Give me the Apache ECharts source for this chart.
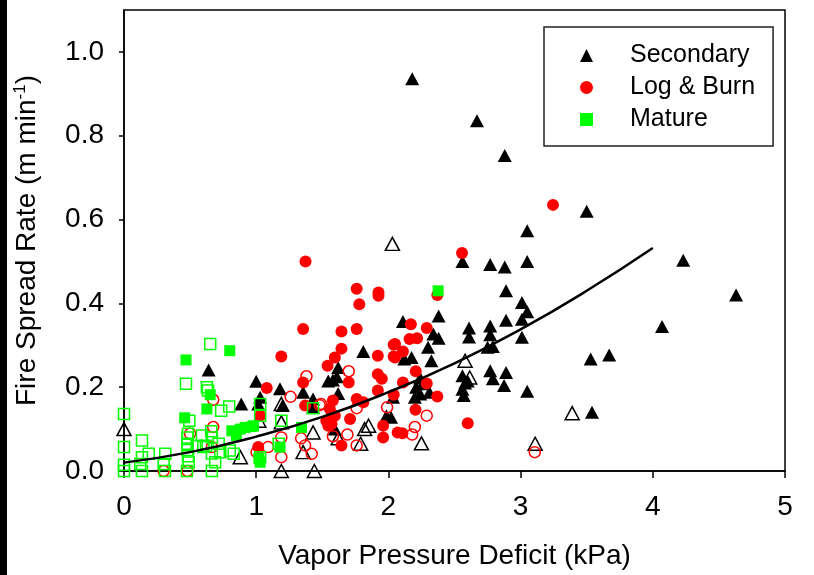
<!DOCTYPE html>
<html><head><meta charset="utf-8">
<script src="https://cdn.jsdelivr.net/npm/echarts@6/dist/echarts.min.js"></script>
<style>html,body{margin:0;padding:0;background:#fff}#c{width:814px;height:575px}</style>
</head><body><div id="c"></div>
<script>
// ---- data (x = VPD kPa, y = fire spread rate m/min) ----
const secondaryFilled = [[2.18,0.936],[2.67,0.836],[2.88,0.753],[3.50,0.62],[3.05,0.573],[2.56,0.50],[2.77,0.493],[2.88,0.487],[3.05,0.50],[4.23,0.503],[4.63,0.42],[4.07,0.345],[3.67,0.277],[3.53,0.267],[3.54,0.14],
[2.89,0.43],[3.01,0.402],[3.05,0.38],[3.01,0.362],[2.89,0.36],[2.61,0.341],[2.61,0.32],[2.77,0.346],[2.77,0.325],[2.75,0.295],[2.79,0.297],[3.01,0.319],[2.56,0.227],[2.58,0.21],[2.56,0.195],[2.57,0.18],[2.60,0.215],[2.77,0.239],[2.79,0.22],[2.89,0.235],[2.875,0.204],[3.05,0.19],
[2.11,0.357],[2.38,0.37],[2.34,0.327],[2.38,0.317],[2.30,0.295],[2.325,0.263],[2.175,0.271],[2.12,0.267],[2.21,0.20],[2.24,0.184],[2.20,0.176],[2.26,0.208],[2.31,0.188],[2.035,0.176],[2.02,0.128],[2.24,0.222],
[1.81,0.285],[1.62,0.247],[1.58,0.217],[1.61,0.225],[1.62,0.185],[1.595,0.10],[1.985,0.132],
[1.00,0.214],[1.18,0.196],[1.355,0.188],[1.43,0.172],[1.20,0.156],[1.03,0.176],[1.015,0.16],[1.545,0.215],[1.43,0.152],
[0.64,0.241],[0.887,0.16]];
const secondaryOpen = [[2.03,0.542],[2.58,0.263],[2.615,0.223],[3.11,0.065],[3.39,0.138],[2.25,0.066],[1.62,0.078],[1.79,0.065],[1.82,0.10],[1.85,0.108],[1.19,0.16],[1.19,0.116],[1.43,0.092],[1.355,0.045],[1.19,0.0],[1.44,0.0],[0.0,0.10],[0.88,0.033],[1.02,0.12]];
const logBurnFilled = [[3.245,0.635],[2.557,0.52],[1.373,0.50],[1.76,0.435],[1.925,0.426],[1.925,0.418],[1.78,0.398],[2.37,0.42],
[1.645,0.333],[1.76,0.339],[1.645,0.292],[1.54,0.251],[1.595,0.271],[1.70,0.211],[1.92,0.275],[2.05,0.303],[2.05,0.271],[1.92,0.231],[1.95,0.22],[1.92,0.192],[1.76,0.172],[1.81,0.164],[1.58,0.168],[1.557,0.148],[1.595,0.132],[1.53,0.12],[1.57,0.112],[1.71,0.124],[1.96,0.108],[1.96,0.08],[1.645,0.061],[2.07,0.092],
[1.355,0.339],[1.19,0.273],[1.08,0.198],[1.355,0.211],[1.37,0.156],[1.015,0.057],[1.03,0.132],[1.545,0.108],
[2.17,0.35],[2.29,0.341],[2.16,0.315],[2.217,0.317],[2.04,0.301],[2.11,0.285],[2.04,0.273],[2.207,0.238],[2.11,0.211],[2.29,0.209],[2.37,0.178],[2.04,0.182],[2.205,0.146],[2.106,0.09],[2.60,0.114]];
const logBurnOpen = [[1.70,0.238],[1.76,0.15],[1.49,0.16],[1.58,0.083],[1.69,0.087],[1.76,0.061],[1.99,0.152],[1.38,0.226],[1.26,0.177],[1.34,0.078],[1.37,0.061],[1.42,0.041],[1.19,0.08],[1.19,0.033],[1.003,0.045],[2.29,0.132],[2.20,0.105],[2.18,0.087],[3.107,0.045],[0.675,0.17],[0.50,0.089],[0.675,0.105],[0.665,0.057],[0.30,0.0],[0.48,0.0],[1.09,0.057],[1.48,0.157]];
const matureFilled = [[2.376,0.43],[0.80,0.287],[0.469,0.265],[0.652,0.182],[0.627,0.148],[0.459,0.127],[0.816,0.096],[0.88,0.10],[0.917,0.104],[0.967,0.106],[0.85,0.085],[0.98,0.108],[1.18,0.057],[1.343,0.104],[1.03,0.021],[1.02,0.03]];
const matureOpen = [[0.652,0.303],[0.469,0.208],[0.627,0.20],[0.635,0.192],[0.494,0.12],[0.735,0.144],[0.796,0.154],[0.0,0.136],[0.0,0.057],[0.136,0.073],[0.187,0.041],[0.312,0.041],[0.136,0.033],[0.0,0.0],[0.0,0.015],[0.136,0.0],[0.31,0.0],[0.476,0.0],[0.665,0.0],[0.484,0.089],[0.48,0.08],[0.48,0.065],[0.484,0.035],[0.49,0.02],[0.59,0.085],[0.60,0.057],[0.665,0.08],[0.665,0.042],[0.69,0.021],[0.716,0.065],[0.728,0.045],[0.80,0.049],[0.83,0.041],[0.30,0.017],[0.123,0.017],[1.03,0.16],[1.03,0.132],[1.19,0.12],[1.43,0.15],[1.17,0.065],[1.03,0.033],[0.48,0.05],[0.55,0.06],[0.66,0.095],[0.62,0.06]];
// fitted curve
const fitX = [0, 0.5, 1, 1.5, 2, 2.5, 3, 3.5, 4];
const fitY = [0.020, 0.045, 0.082, 0.129, 0.188, 0.257, 0.338, 0.430, 0.532];
// ticks
const xTicks = [0, 1, 2, 3, 4, 5];
const yTicks = [0, 0.2, 0.4, 0.6, 0.8, 1.0];
const legendNames = ['Secondary', 'Log & Burn', 'Mature'];

const FONT = 'Liberation Sans, Arial, sans-serif';
const chart = echarts.init(document.getElementById('c'), null, {renderer: 'canvas'});
const fitData = fitX.map((x, i) => [x, fitY[i]]);
const open = (c) => ({color: 'rgba(0,0,0,0)', borderColor: c, borderWidth: 1.5, opacity: 1});
const solid = (c) => ({color: c, opacity: 1});
chart.setOption({
  backgroundColor: '#fff',
  animation: false,
  graphic: [{type: 'rect', left: 0, top: 0, shape: {width: 7, height: 575}, style: {fill: '#000'}}],
  grid: {left: 124, right: 29, top: 10, bottom: 104, show: true, borderColor: '#000', borderWidth: 1.5},
  legend: {
    data: legendNames, orient: 'vertical', left: 544, top: 27,
    itemWidth: 13, itemHeight: 13, itemGap: 7,
    padding: [16, 18, 14, 36],
    borderColor: '#222', borderWidth: 1.5, backgroundColor: '#fff',
    itemStyle: {opacity: 1},
    textStyle: {fontFamily: FONT, fontSize: 25, color: '#000', lineHeight: 24, padding: [0, 0, 0, 32]}
  },
  xAxis: {
    type: 'value', min: 0, max: 5, interval: 1,
    name: 'Vapor Pressure Deficit (kPa)', nameLocation: 'middle', nameGap: 71,
    nameTextStyle: {fontFamily: FONT, fontSize: 28, color: '#000'},
    axisLine: {lineStyle: {color: '#000', width: 1.5}},
    axisTick: {show: true, inside: false, length: 7, lineStyle: {color: '#000', width: 1.5}, customValues: xTicks},
    axisLabel: {fontFamily: FONT, fontSize: 28, color: '#000', margin: 22, customValues: xTicks},
    splitLine: {show: false}
  },
  yAxis: {
    type: 'value', min: 0, max: 1.1, interval: 0.2,
    name: 'Fire Spread Rate (m min{sup|-1})', nameLocation: 'middle', nameGap: 82,
    nameTextStyle: {fontFamily: FONT, fontSize: 28, color: '#000', lineHeight: 30,
      rich: {sup: {fontFamily: FONT, fontSize: 17, color: '#000', verticalAlign: 'top', lineHeight: 30}}},
    axisLine: {show: true, lineStyle: {color: '#000', width: 1.5}},
    axisTick: {show: true, inside: false, length: 5, lineStyle: {color: '#000', width: 1.5}, customValues: yTicks},
    axisLabel: {fontFamily: FONT, fontSize: 28, color: '#000', margin: 20, customValues: yTicks,
      formatter: v => v > 1.05 ? '' : v.toFixed(1)},
    splitLine: {show: false}
  },
  series: [
    {name: 'Secondary', type: 'scatter', symbol: 'triangle', symbolSize: [14, 13], data: secondaryFilled, itemStyle: solid('#000'), z: 2},
    {name: 'Secondary open', type: 'scatter', symbol: 'triangle', symbolSize: [14, 13], data: secondaryOpen, itemStyle: open('#000'), z: 2},
    {name: 'Log & Burn', type: 'scatter', symbol: 'circle', symbolSize: 12, data: logBurnFilled, itemStyle: solid('#ff0000'), z: 3},
    {name: 'Log & Burn open', type: 'scatter', symbol: 'circle', symbolSize: 11, data: logBurnOpen, itemStyle: open('#ff0000'), z: 3},
    {name: 'Mature', type: 'scatter', symbol: 'rect', symbolSize: 11, data: matureFilled, itemStyle: solid('#00ff00'), z: 4},
    {name: 'Mature open', type: 'scatter', symbol: 'rect', symbolSize: 11, data: matureOpen, itemStyle: open('#00ff00'), z: 4},
    {name: 'fit', type: 'line', data: fitData, smooth: true, showSymbol: false, symbol: 'none',
      lineStyle: {color: '#000', width: 2.5}, z: 5}
  ]
});
</script></body></html>
